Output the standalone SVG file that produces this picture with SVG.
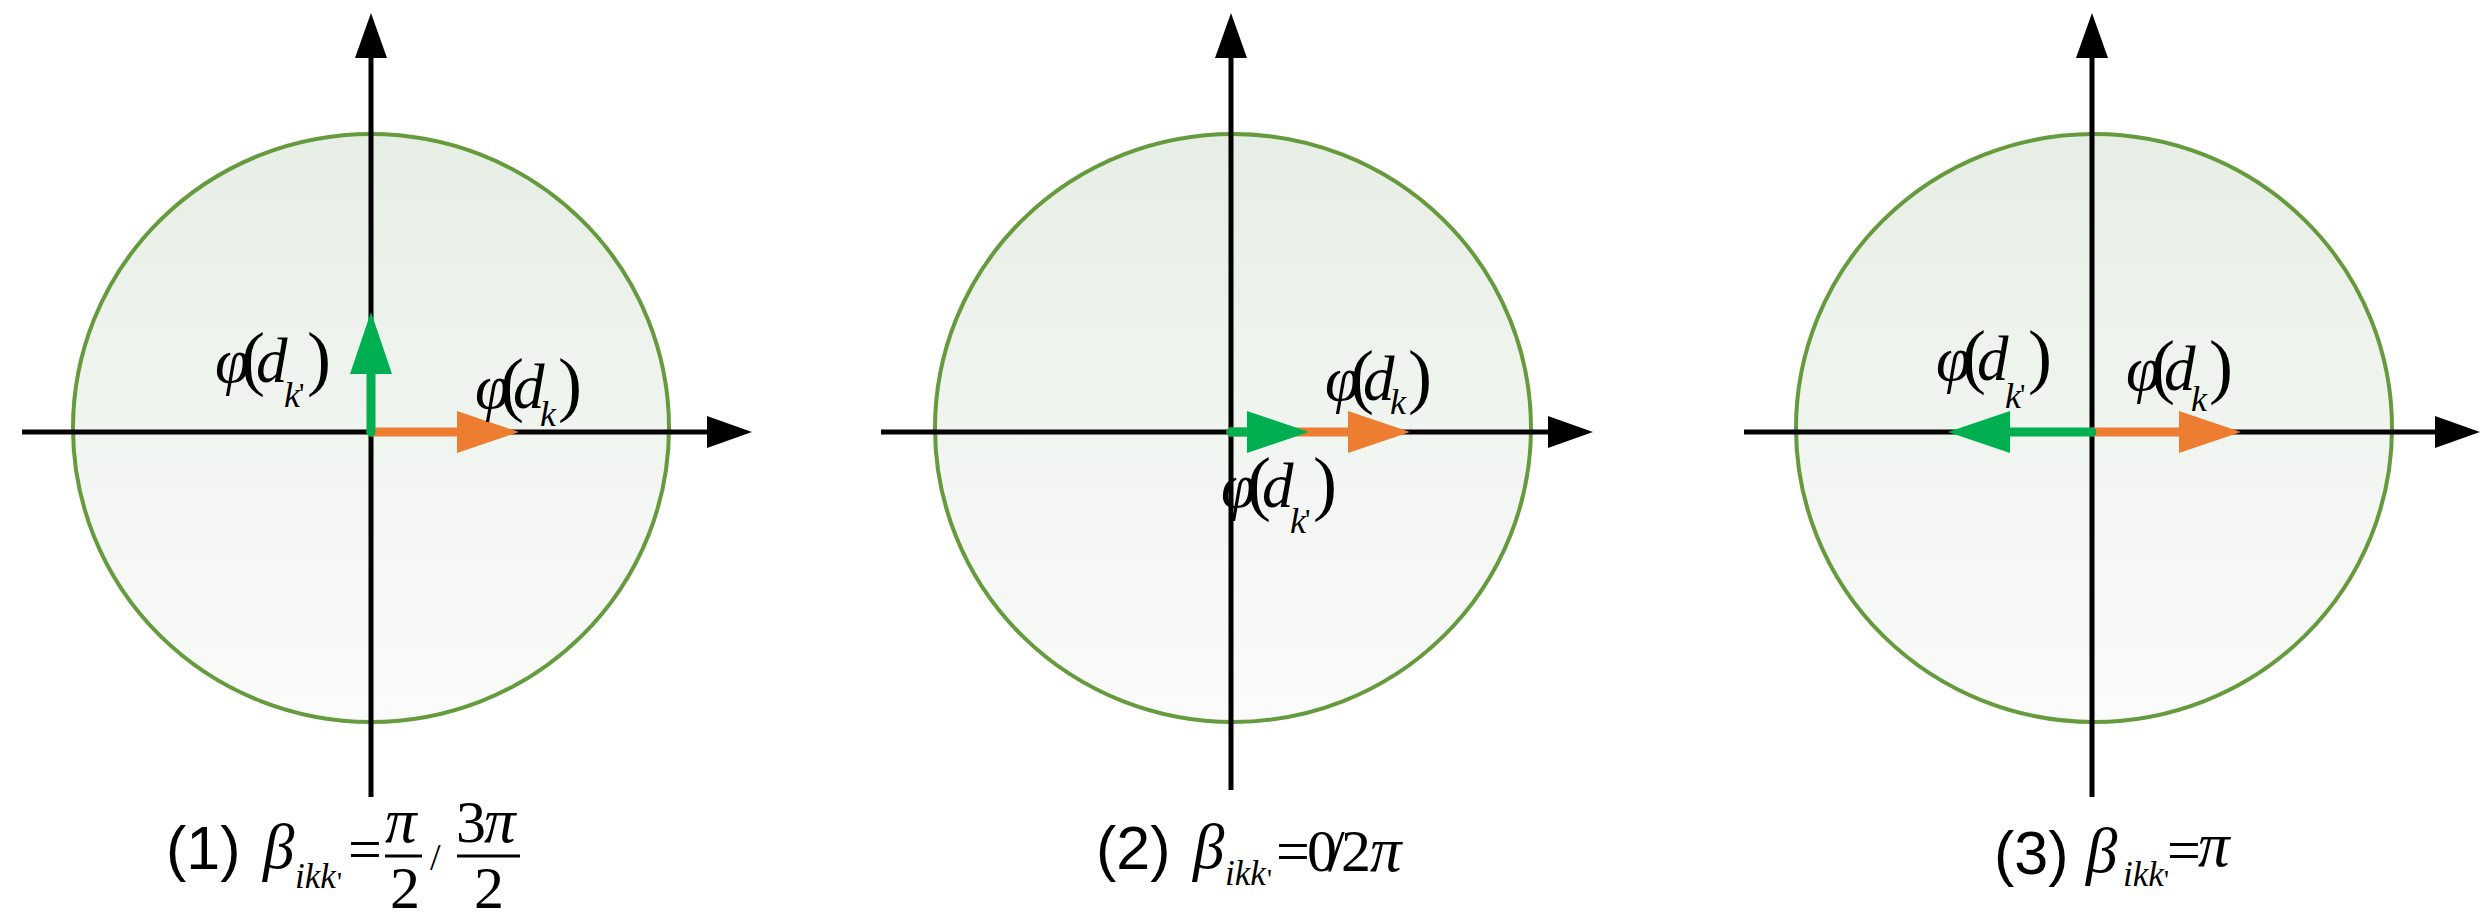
<svg xmlns="http://www.w3.org/2000/svg" width="2490" height="922" viewBox="0 0 2490 922">
<style>
.circ{stroke:#659a3d;stroke-width:4;fill:url(#cg)}
.axis{stroke:#000;stroke-width:5;fill:none;marker-end:url(#ah)}
.vg{stroke:#00b050;stroke-width:9;stroke-linecap:round;fill:none;marker-end:url(#gh)}
.vo{stroke:#ed7d31;stroke-width:9;stroke-linecap:round;fill:none;marker-end:url(#oh)}
text{font-family:"Liberation Serif","Times New Roman",serif;fill:#000}
.m{font-style:italic;font-size:63px}
.u{font-style:normal;font-size:60px}
.p{font-style:normal;font-size:72px}
.s{font-style:italic;font-size:36px}
.pr{font-style:normal;font-size:30px}
.lab{font-family:"Liberation Sans",Arial,sans-serif;font-size:61px}
.ss{font-style:italic;font-size:35px}
.sp{font-style:normal;font-size:28px}
.sl{font-style:normal;font-size:38px}
.bar{stroke:#000;stroke-width:3}
</style>
<defs>
<linearGradient id="cg" x1="0" y1="0" x2="0" y2="1">
<stop offset="0" stop-color="#e7eee5"/>
<stop offset="1" stop-color="#fafbfa"/>
</linearGradient>
<marker id="ah" markerUnits="userSpaceOnUse" markerWidth="45" markerHeight="32" refX="0" refY="16" orient="auto" overflow="visible">
<path d="M0,0 L45,16 L0,32 z" fill="#000"/>
</marker>
<marker id="gh" markerUnits="userSpaceOnUse" markerWidth="62" markerHeight="42" refX="0" refY="21" orient="auto" overflow="visible">
<path d="M0,0 L62,21 L0,42 z" fill="#00b050"/>
</marker>
<marker id="oh" markerUnits="userSpaceOnUse" markerWidth="62" markerHeight="42" refX="0" refY="21" orient="auto" overflow="visible">
<path d="M0,0 L62,21 L0,42 z" fill="#ed7d31"/>
</marker>
</defs>

<g id="panel-1">
<ellipse class="circ" cx="371" cy="428" rx="298" ry="294"/>
<line class="axis" x1="371" y1="797" x2="371" y2="58"/>
<line class="axis" x1="22" y1="432" x2="707" y2="432"/>
</g>
<g id="panel-2">
<ellipse class="circ" cx="1233" cy="428" rx="298" ry="294"/>
<line class="axis" x1="1231" y1="790" x2="1231" y2="58"/>
<line class="axis" x1="881" y1="432" x2="1548" y2="432"/>
</g>
<g id="panel-3">
<ellipse class="circ" cx="2094" cy="428" rx="298" ry="294"/>
<line class="axis" x1="2092" y1="797" x2="2092" y2="58"/>
<line class="axis" x1="1744" y1="432" x2="2435" y2="432"/>
</g>

<g id="connectors">
<line class="vo" x1="371" y1="432" x2="457" y2="432"/>
<line class="vg" x1="371" y1="432" x2="371" y2="374"/>
<line class="vo" x1="1231" y1="432" x2="1348" y2="432"/>
<line class="vg" x1="1231" y1="432" x2="1247" y2="432"/>
<line class="vo" x1="2092" y1="432" x2="2179" y2="432"/>
<line class="vg" x1="2092" y1="432" x2="2010" y2="432"/>
</g>

<g id="labels-1">
<text><tspan class="m" x="215" y="382">φ</tspan><tspan class="p" x="241" y="382">(</tspan><tspan class="m" x="256" y="382">d</tspan><tspan class="s" x="284" y="407">k</tspan><tspan class="pr" x="299" y="403">'</tspan><tspan class="p" x="307" y="382">)</tspan></text>
<text><tspan class="m" x="475" y="408">φ</tspan><tspan class="p" x="500" y="408">(</tspan><tspan class="m" x="513" y="408">d</tspan><tspan class="s" x="540" y="426">k</tspan><tspan class="p" x="558" y="408">)</tspan></text>
</g>
<g id="labels-2">
<text><tspan class="m" x="1325" y="400">φ</tspan><tspan class="p" x="1350" y="400">(</tspan><tspan class="m" x="1363" y="400">d</tspan><tspan class="s" x="1390" y="414">k</tspan><tspan class="p" x="1408" y="400">)</tspan></text>
<text><tspan class="m" x="1221" y="507">φ</tspan><tspan class="p" x="1247" y="507">(</tspan><tspan class="m" x="1262" y="507">d</tspan><tspan class="s" x="1290" y="533">k</tspan><tspan class="pr" x="1305" y="529">'</tspan><tspan class="p" x="1313" y="507">)</tspan></text>
</g>
<g id="labels-3">
<text><tspan class="m" x="1936" y="380">φ</tspan><tspan class="p" x="1962" y="380">(</tspan><tspan class="m" x="1977" y="380">d</tspan><tspan class="s" x="2005" y="408">k</tspan><tspan class="pr" x="2020" y="404">'</tspan><tspan class="p" x="2028" y="380">)</tspan></text>
<text><tspan class="m" x="2126" y="390">φ</tspan><tspan class="p" x="2151" y="390">(</tspan><tspan class="m" x="2164" y="390">d</tspan><tspan class="s" x="2191" y="411">k</tspan><tspan class="p" x="2209" y="390">)</tspan></text>
</g>

<g id="caption-1">
<text><tspan class="lab" x="166" y="869">(1)</tspan><tspan class="m" x="263" y="868">β</tspan><tspan class="ss" x="295" y="888">ikk</tspan><tspan class="sp" x="337" y="891">'</tspan><tspan class="u" x="348" y="869">=</tspan></text>
<text><tspan class="m" x="385" y="842">π</tspan><tspan class="u" x="390" y="908">2</tspan></text>
<line class="bar" x1="385" y1="856" x2="422" y2="856"/>
<text class="sl" x="430" y="870">/</text>
<text><tspan class="u" x="456" y="842">3</tspan><tspan class="m" x="484" y="842">π</tspan><tspan class="u" x="474" y="908">2</tspan></text>
<line class="bar" x1="457" y1="856" x2="520" y2="856"/>
</g>
<g id="caption-2">
<text><tspan class="lab" x="1096" y="869">(2)</tspan><tspan class="m" x="1193" y="868">β</tspan><tspan class="ss" x="1225" y="885">ikk</tspan><tspan class="sp" x="1267" y="888">'</tspan><tspan class="u" x="1276" y="871">=</tspan><tspan class="u" x="1307" y="871">0</tspan><tspan class="u" x="1328" y="871">/</tspan><tspan class="u" x="1341" y="871">2</tspan><tspan class="m" x="1370" y="871">π</tspan></text>
</g>
<g id="caption-3">
<text><tspan class="lab" x="1994" y="874">(3)</tspan><tspan class="m" x="2086" y="872">β</tspan><tspan class="ss" x="2123" y="886">ikk</tspan><tspan class="sp" x="2164" y="889">'</tspan><tspan class="u" x="2167" y="870">=</tspan><tspan class="m" x="2198" y="866">π</tspan></text>
</g>
</svg>
